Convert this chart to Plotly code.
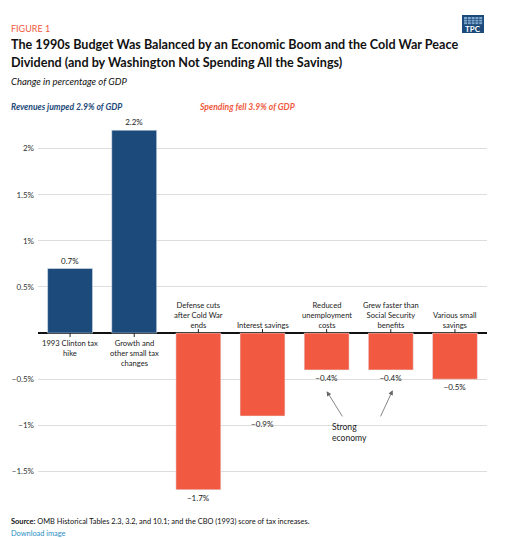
import plotly.graph_objects as go

# 数据
categories = ["1993 Clinton tax<br>hike", "Growth and<br>other small tax<br>changes",
              "Defense cuts<br>after Cold War<br>ends", "Interest savings",
              "Reduced<br>unemployment<br>costs", "Grew faster than<br>Social Security<br>benefits",
              "Various small<br>savings"]
values = [0.7, 2.2, -1.7, -0.9, -0.4, -0.4, -0.5]
tick_vals = [-1.5, -1, -0.5, 0.5, 1, 1.5, 2]
tick_text = ["\u22121.5%", "\u22121%", "\u22120.5%", "0.5%", "1%", "1.5%", "2%"]

BLUE = "#1c4a7a"
ORANGE = "#f15a40"
FONT = "Lato"

# 页面有8px的body边距
OFF = 8
W, H = 510 - OFF, 538 - OFF
L, R, T, B = 38 - OFF, 23, 121 - OFF, 538 - 499


def px(x, y):
    # 屏幕像素坐标转paper坐标
    x, y = x - OFF, y - OFF
    return (x - L) / (W - L - R), (H - B - y) / (H - T - B)


xs = list(range(len(values)))
colors = [BLUE if v > 0 else ORANGE for v in values]
labels = [("%g%%" % v).replace("-", "\u2212") for v in values]

fig = go.Figure(go.Bar(x=xs, y=values, marker_color=colors, text=labels,
                       textposition="outside", textfont=dict(size=8, color="#222", family=FONT),
                       cliponaxis=False, width=0.7))

annotations = []
shapes = []
for x, v, c in zip(xs, values, categories):
    up = v < 0
    annotations.append(dict(x=x, y=0, text=c, showarrow=False, xanchor="center",
                            yanchor="bottom" if up else "top", yshift=1 if up else -3,
                            font=dict(size=7.6, color="#222", family=FONT)))
    shapes.append(dict(type="line", xref="x", yref="y", x0=x, x1=x, ysizemode="pixel",
                       yanchor=0, y0=0, y1=4 if up else -4, line=dict(color="#222", width=1)))

# 箭头
for hx, hy, tx, ty in [(4.0, -0.63, 4.26, -0.92), (5.03, -0.62, 4.83, -0.92)]:
    annotations.append(dict(x=hx, y=hy, ax=tx, ay=ty, axref="x", ayref="y", text="",
                            showarrow=True, arrowhead=2, arrowsize=1.2, arrowwidth=0.8,
                            arrowcolor="#666"))
annotations.append(dict(x=4.06, y=-0.94, text="Strong<br>economy", showarrow=False,
                        xanchor="left", yanchor="top", align="left",
                        font=dict(size=8.6, color="#222", family=FONT)))


# 标题等文本
def text_at(x, y, s, size, color="#111", anchor="left"):
    px_, py_ = px(x, y)
    annotations.append(dict(x=px_, y=py_, xref="paper", yref="paper", text=s, showarrow=False,
                            xanchor=anchor, yanchor="middle", align="left", xshift=-3,
                            font=dict(size=size, color=color, family=FONT)))


text_at(12, 28, "FIGURE 1", 9, ORANGE)
text_at(12, 45, "<b>The 1990s Budget Was Balanced by an Economic Boom and the Cold War Peace</b>", 12.6)
text_at(12, 62, "<b>Dividend (and by Washington Not Spending All the Savings)</b>", 12.6)
text_at(12, 81, "<i>Change in percentage of GDP</i>", 9.5)
text_at(12, 107, "<b><i>Revenues jumped 2.9% of GDP</i></b>", 8.6, BLUE)
text_at(200, 107, "<b><i>Spending fell 3.9% of GDP</i></b>", 8.6, ORANGE)
text_at(12, 521, "<b>Source:</b> OMB Historical Tables 2.3, 3.2, and 10.1; and the CBO (1993) score of tax increases.", 7.4)
text_at(12, 533, "Download image", 7.4, "#2a8fc4")

# TPC 标志
x0, y0 = px(462, 33)
x1, y1 = px(484, 15)
shapes.append(dict(type="rect", xref="paper", yref="paper", x0=x0, y0=y0, x1=x1, y1=y1,
                   fillcolor=BLUE, line=dict(width=0)))
for i in range(5):
    for j in range(3):
        a0, b0 = px(464 + i * 3.8, 17 + j * 2.6 + 2)
        a1, b1 = px(464 + i * 3.8 + 3, 17 + j * 2.6)
        shapes.append(dict(type="rect", xref="paper", yref="paper", x0=a0, y0=b0, x1=a1, y1=b1,
                           fillcolor="#7fa6cc", line=dict(width=0)))
tx, ty = px(473, 29)
annotations.append(dict(x=tx, y=ty, xref="paper", yref="paper", text="<b>TPC</b>", showarrow=False,
                        xanchor="center", yanchor="middle",
                        font=dict(size=8, color="white", family=FONT)))

fig.update_layout(
    width=W, height=H, margin=dict(l=L, r=R, t=T, b=B),
    paper_bgcolor="white", plot_bgcolor="white", showlegend=False,
    font=dict(family=FONT, size=8, color="#222"),
    xaxis=dict(range=[-0.5, 6.5], showticklabels=False, showgrid=False, zeroline=False,
               automargin=False),
    yaxis=dict(range=[-1.8, 2.3], tickvals=tick_vals, ticktext=tick_text, showgrid=True,
               gridcolor="#dddddd", gridwidth=1, zeroline=True, zerolinecolor="#111",
               zerolinewidth=1.5, ticklabelstandoff=3, automargin=False,
               tickfont=dict(size=8, color="#333", family=FONT)),
    annotations=annotations, shapes=shapes,
)

fig.write_html("out.html")
